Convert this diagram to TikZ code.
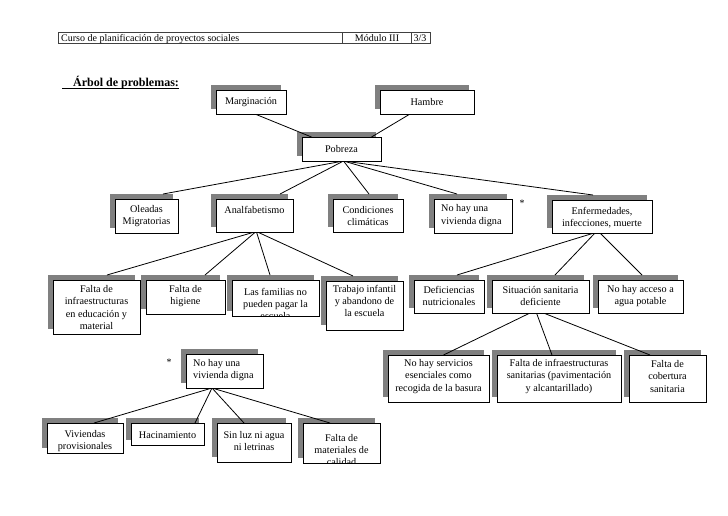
\documentclass[tikz,border=0pt]{standalone}
\usepackage{fontspec}
\setmainfont{Liberation Serif}
\usetikzlibrary{calc}
\pgfdeclarelayer{shadowl}
\pgfdeclarelayer{linel}
\pgfsetlayers{shadowl,linel,main}
\definecolor{shadegray}{RGB}{128,128,128}
\tikzset{
  pbox/.style={draw=black, line width=0.8pt, fill=white, inner sep=0pt, outer sep=0pt, rectangle},
  conn/.style={draw=black, line width=0.8pt},
  txt/.style={inner sep=0pt, font=\fontsize{10.2}{12.3}\selectfont},
  hdr/.style={draw=black!75, line width=0.6pt},
  hdrtxt/.style={inner sep=0pt, font=\fontsize{10}{12}\selectfont},
}
% centred text box
\newcommand\pbx[7]{%
  \node[pbox, minimum width={(#4-#2)*1pt}, minimum height={(#5-#3)*1pt}] (#1) at ({(#2+#4)/2},{(#3+#5)/2}) {};
  \begin{pgfonlayer}{shadowl}
    \fill[shadegray] ([shift={(-5,-5)}]#1.north west) rectangle ([shift={(-5,-5)}]#1.south east);
  \end{pgfonlayer}
  \begin{scope}
    \clip (#1.north west) rectangle (#1.south east);
    \node[txt, align=center] (#1t) at (#1.center |- 0,#6) {#7};
  \end{scope}}
% left-aligned text box
\newcommand\pbxl[7]{%
  \node[pbox, minimum width={(#4-#2)*1pt}, minimum height={(#5-#3)*1pt}] (#1) at ({(#2+#4)/2},{(#3+#5)/2}) {};
  \begin{pgfonlayer}{shadowl}
    \fill[shadegray] ([shift={(-5,-5)}]#1.north west) rectangle ([shift={(-5,-5)}]#1.south east);
  \end{pgfonlayer}
  \node[txt, align=left, anchor=west] (#1t) at ([xshift=7]#1.west |- 0,#6) {#7};}
\begin{document}
\begin{tikzpicture}[x=1pt,y=-1pt]
\begin{pgfonlayer}{shadowl}
\fill[white] (0,0) rectangle (728,515);
\end{pgfonlayer}
\useasboundingbox (0,0) rectangle (728,515);

% header table
\draw[hdr] (58,32) rectangle (430,43);
\draw[hdr] (342,32) -- (342,43);
\draw[hdr] (411,32) -- (411,43);
\node[hdrtxt, anchor=base west] (hcurso) at (61,41) {Curso de planificación de proyectos sociales};
\node[hdrtxt, anchor=base] (hmod) at (377,41) {Módulo III};
\node[hdrtxt, anchor=base] (hpag) at (420,41) {3/3};

% title
\node[inner sep=0pt, anchor=base west, font=\fontsize{12}{14}\selectfont\bfseries] (title) at (73,86.3) {Árbol de problemas:};
\draw[line width=0.9pt] (62,88.6) -- (title.east |- 0,88.6);

% boxes
\pbx{mar}{216}{90}{286}{114}{102}{Marginación}
\pbx{ham}{380}{90}{474}{114}{102}{Hambre}
\pbx{pob}{302}{137}{381}{161}{149}{Pobreza}
\pbx{ole}{115}{199}{178}{233}{216}{Oleadas\\Migratorias}
\pbx{ana}{216}{199}{293}{232}{210}{Analfabetismo}
\pbx{con}{333}{199}{403}{232}{216}{Condiciones\\climáticas}
\pbxl{viva}{434}{199}{512}{233}{215.5}{No hay una\\vivienda digna}
\pbx{enf}{552}{200}{652}{233}{217.5}{Enfermedades,\\infecciones, muerte}
\pbx{fin}{53}{280}{140}{334}{307.5}{Falta de\\infraestructuras\\en educación y\\material}
\pbx{hig}{146}{280}{225}{314}{296}{Falta de\\higiene}
\pbx{fam}{232}{280}{319}{316}{304}{Las familias no\\pueden pagar la\\escuela}
\pbx{tra}{326}{281}{403}{330}{301}{Trabajo infantil\\y abandono de\\la escuela}
\pbx{def}{414}{280}{484}{313}{296}{Deficiencias\\nutricionales}
\pbx{sit}{492}{280}{589}{313}{296}{Situación sanitaria\\deficiente}
\pbx{acc}{598}{280}{683}{313}{296}{No hay acceso a\\agua potable}
\pbx{ser}{388}{355}{489}{402}{376.5}{No hay servicios\\esenciales como\\recogida de la basura}
\pbx{fis}{497}{355}{621}{402}{376.5}{Falta de infraestructuras\\sanitarias (pavimentación\\y alcantarillado)}
\pbx{cob}{629}{355}{706}{402}{376.5}{Falta de\\cobertura\\sanitaria}
\pbxl{vivb}{186}{354}{263}{388}{370}{No hay una\\vivienda digna}
\pbx{pro}{47}{423}{123}{453}{441}{Viviendas\\provisionales}
\pbx{hac}{131}{423}{204}{445}{435}{Hacinamiento}
\pbx{luz}{217}{423}{291}{462}{441}{Sin luz ni agua\\ni letrinas}
\pbx{mat}{303}{423}{380}{463}{450}{Falta de\\materiales de\\calidad}

% asterisks
\node[hdrtxt] (asta) at (522,203) {*};
\node[hdrtxt] (astb) at (169,362) {*};

% connectors
\begin{pgfonlayer}{linel}
\draw[conn] ([xshift=4]mar.south) -- ([xshift=-30]pob.north);
\draw[conn] ([xshift=-17]ham.south) -- ([xshift=30]pob.north);
\draw[conn] ([xshift=2]pob.south) -- ([shift={(16.5,-5)}]ole.north);
\draw[conn] ([xshift=2]pob.south) -- ([shift={(25.5,-5)}]ana.north);
\draw[conn] ([xshift=2]pob.south) -- ([shift={(1,-5)}]con.north);
\draw[conn] ([xshift=2]pob.south) -- ([shift={(-16,-5)}]viva.north);
\draw[conn] ([xshift=2]pob.south) -- ([shift={(-9,-5)}]enf.north);
\draw[conn] ([xshift=0]ana.south) -- ([shift={(10.5,-5)}]fin.north);
\draw[conn] ([xshift=1]ana.south) -- ([shift={(19.5,-5)}]hig.north);
\draw[conn] ([xshift=2]ana.south) -- ([shift={(-5.5,-5)}]fam.north);
\draw[conn] ([xshift=3]ana.south) -- ([shift={(-11.5,-5)}]tra.north);
\draw[conn] ([xshift=-8]enf.south) -- ([shift={(8,-5)}]def.north);
\draw[conn] ([xshift=-7]enf.south) -- ([shift={(14.5,-5)}]sit.north);
\draw[conn] ([xshift=-2]enf.south) -- ([shift={(1.5,-5)}]acc.north);
\draw[conn] ([xshift=-10.5]sit.south) -- ([xshift=5]ser.north);
\draw[conn] ([xshift=-4]sit.south) -- ([xshift=-7]fis.north);
\draw[conn] ([xshift=3]sit.south) -- ([xshift=-17.5]cob.north);
\draw[conn] ([xshift=-12.5]vivb.south) -- ([xshift=9]pro.north);
\draw[conn] ([xshift=-12.5]vivb.south) -- ([xshift=27.5]hac.north);
\draw[conn] ([xshift=-12.5]vivb.south) -- ([xshift=-10]luz.north);
\draw[conn] ([xshift=-12.5]vivb.south) -- ([xshift=-11.5]mat.north);
\end{pgfonlayer}
\end{tikzpicture}
\end{document}
